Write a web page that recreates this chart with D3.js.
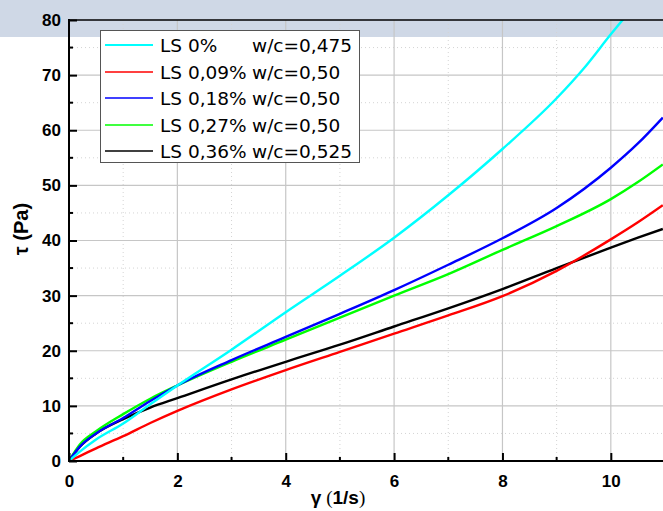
<!DOCTYPE html>
<html>
<head>
<meta charset="utf-8">
<script src="https://cdn.jsdelivr.net/npm/d3@7"></script>
<style>
  html, body { margin: 0; padding: 0; background: #ffffff; }
  svg { display: block; }
</style>
</head>
<body>
<svg id="chart" width="663" height="511"></svg>
<script>
// Shear rate (1/s) sample points
const gammaGrid = [0, 0.2, 0.5, 1, 1.5, 2, 3, 4, 5, 6, 7, 8, 9, 10, 10.5, 10.96];
const gammaCyan = [0, 0.2, 0.5, 1, 1.5, 2, 3, 4, 5, 6, 7, 8, 9, 9.5, 10, 10.25];

// Shear stress (Pa) for each mix
const tauLS0   = [0, 1.7, 3.9, 6.8, 10.3, 13.7, 20.2, 27.0, 33.6, 40.5, 48.2, 56.6, 65.8, 71.2, 77.4, 80.4];
const tauLS009 = [0, 0.9, 2.3, 4.5, 6.9, 9.1, 13.0, 16.5, 19.8, 23.1, 26.4, 29.9, 34.5, 40.2, 43.3, 46.4];
const tauLS018 = [0, 2.6, 5.0, 7.8, 10.9, 13.7, 18.3, 22.5, 26.7, 31.0, 35.6, 40.4, 45.9, 53.2, 57.6, 62.3];
const tauLS027 = [0, 3.0, 5.4, 8.5, 11.3, 13.7, 18.0, 22.0, 26.0, 30.0, 33.9, 38.3, 42.6, 47.5, 50.6, 53.8];
const tauLS036 = [0, 2.6, 5.0, 7.6, 9.7, 11.4, 14.8, 18.0, 21.1, 24.4, 27.7, 31.2, 35.0, 38.7, 40.5, 42.1];

const seriesNames = ["LS 0%", "LS 0,09%", "LS 0,18%", "LS 0,27%", "LS 0,36%"];
const seriesWC    = ["w/c=0,475", "w/c=0,50", "w/c=0,50", "w/c=0,50", "w/c=0,525"];
const seriesColors = ["#00ffff", "#ff0000", "#0000ff", "#00ff00", "#000000"];

const xTicks = [0, 2, 4, 6, 8, 10];
const xMinor = [1, 3, 5, 7, 9, 11];
const yTicks = [0, 10, 20, 30, 40, 50, 60, 70, 80];
const yMinor = [5, 15, 25, 35, 45, 55, 65, 75];

const series = [
  { x: gammaCyan, y: tauLS0 },
  { x: gammaGrid, y: tauLS009 },
  { x: gammaGrid, y: tauLS018 },
  { x: gammaGrid, y: tauLS027 },
  { x: gammaGrid, y: tauLS036 }
].map((s, i) => ({
  name: seriesNames[i], wc: seriesWC[i], color: seriesColors[i],
  points: s.x.map((g, j) => [g, s.y[j]])
}));

const svg = d3.select("#chart");
const W = 663, H = 511;
const plotL = 69, plotR = 665, plotT = 20, plotB = 461;

const x = d3.scaleLinear().domain([0, 11]).range([plotL, plotR]);
const y = d3.scaleLinear().domain([0, 80]).range([plotB, plotT]);

// page header band
svg.append("rect").attr("x", 0).attr("y", 0).attr("width", W).attr("height", 37)
  .attr("fill", "#cfd8e6");

// grid
const grid = svg.append("g");
grid.append("g").selectAll("line").data(xMinor).join("line")
  .attr("x1", d => x(d)).attr("x2", d => x(d)).attr("y1", plotT).attr("y2", plotB)
  .attr("stroke", "#d4d4d4").attr("stroke-width", 1).attr("stroke-dasharray", "1,3");
grid.append("g").selectAll("line").data(yMinor).join("line")
  .attr("x1", plotL).attr("x2", W).attr("y1", d => y(d)).attr("y2", d => y(d))
  .attr("stroke", "#d4d4d4").attr("stroke-width", 1).attr("stroke-dasharray", "1,3");
grid.append("g").selectAll("line").data(xTicks.slice(1)).join("line")
  .attr("x1", d => x(d)).attr("x2", d => x(d)).attr("y1", plotT).attr("y2", plotB)
  .attr("stroke", "#c6c6c6").attr("stroke-width", 1.2);
grid.append("g").selectAll("line").data(yTicks.slice(1, -1)).join("line")
  .attr("x1", plotL).attr("x2", W).attr("y1", d => y(d)).attr("y2", d => y(d))
  .attr("stroke", "#c6c6c6").attr("stroke-width", 1.2);

// data curves
svg.append("defs").append("clipPath").attr("id", "plotClip")
  .append("rect").attr("x", plotL).attr("y", plotT).attr("width", W - plotL).attr("height", plotB - plotT);

const line = d3.line().x(d => x(d[0])).y(d => y(d[1])).curve(d3.curveMonotoneX);
const curves = svg.append("g").attr("clip-path", "url(#plotClip)");
// drawing order: black first, cyan last on top
[4, 1, 3, 2, 0].forEach(i => {
  curves.append("path").datum(series[i].points)
    .attr("d", line).attr("fill", "none")
    .attr("stroke", series[i].color).attr("stroke-width", 2.4)
    .attr("stroke-linejoin", "round");
});

// axes
const tickFont = "'Liberation Sans', Arial, sans-serif";
const xAxisB = d3.axisBottom(x).tickValues(xTicks).tickSize(-8).tickPadding(14).tickFormat(d3.format("d"));
const gx = svg.append("g").attr("transform", `translate(0,${plotB})`).call(xAxisB);
gx.select(".domain").remove();
gx.selectAll(".tick line").attr("stroke", "#000").attr("stroke-width", 2);
gx.selectAll(".tick text").attr("font-family", tickFont).attr("font-weight", "bold")
  .attr("font-size", 17).attr("fill", "#000");
gx.append("g").selectAll("line").data(xMinor.filter(d => d < 11)).join("line")
  .attr("x1", d => x(d)).attr("x2", d => x(d)).attr("y1", 0).attr("y2", -4)
  .attr("stroke", "#000").attr("stroke-width", 2);

const yAxisL = d3.axisLeft(y).tickValues(yTicks).tickSize(-8).tickPadding(8).tickFormat(d3.format("d"));
const gy = svg.append("g").attr("transform", `translate(${plotL},0)`).call(yAxisL);
gy.select(".domain").remove();
gy.selectAll(".tick line").attr("stroke", "#000").attr("stroke-width", 2);
gy.selectAll(".tick text").attr("font-family", tickFont).attr("font-weight", "bold")
  .attr("font-size", 17).attr("fill", "#000");
gy.append("g").selectAll("line").data(yMinor).join("line")
  .attr("x1", 0).attr("x2", 4).attr("y1", d => y(d)).attr("y2", d => y(d))
  .attr("stroke", "#000").attr("stroke-width", 2);

// frame lines
svg.append("line").attr("x1", plotL).attr("x2", plotL).attr("y1", plotT - 1).attr("y2", plotB + 1)
  .attr("stroke", "#000").attr("stroke-width", 2);
svg.append("line").attr("x1", plotL - 1).attr("x2", W).attr("y1", plotB).attr("y2", plotB)
  .attr("stroke", "#000").attr("stroke-width", 2);
svg.append("line").attr("x1", plotL - 1).attr("x2", W).attr("y1", plotT).attr("y2", plotT)
  .attr("stroke", "#000").attr("stroke-width", 1.5);

// axis titles
svg.append("text")
  .attr("transform", `translate(28,229) rotate(-90)`)
  .attr("text-anchor", "middle")
  .attr("font-family", tickFont).attr("font-weight", "bold").attr("font-size", 20)
  .text("τ (Pa)");

const xt = svg.append("text").attr("x", 338).attr("y", 504).attr("text-anchor", "middle")
  .attr("font-size", 19);
xt.append("tspan").attr("font-family", tickFont).attr("font-weight", "bold").text("γ");
xt.append("tspan").attr("font-family", "'Liberation Serif', serif").text(" (");
xt.append("tspan").attr("font-family", tickFont).attr("font-weight", "bold").text("1/s");
xt.append("tspan").attr("font-family", "'Liberation Serif', serif").text(")");

// legend
const lg = svg.append("g");
lg.append("rect").attr("x", 100.5).attr("y", 30.5).attr("width", 259).attr("height", 132)
  .attr("fill", "#fff").attr("stroke", "#555").attr("stroke-width", 1);
const rowY = i => Math.round(45 + i * 26.5);
series.forEach((s, i) => {
  lg.append("line").attr("x1", 105).attr("x2", 153).attr("y1", rowY(i)).attr("y2", rowY(i))
    .attr("stroke", s.color).attr("stroke-width", i === 0 ? 2 : 1.5);
  const t = lg.append("text").attr("y", rowY(i) + 7)
    .attr("font-family", "'DejaVu Sans', sans-serif").attr("font-size", 18.5).attr("fill", "#000");
  t.append("tspan").attr("x", 160).text(s.name);
  t.append("tspan").attr("x", 252).text(s.wc);
});
</script>
</body>
</html>
